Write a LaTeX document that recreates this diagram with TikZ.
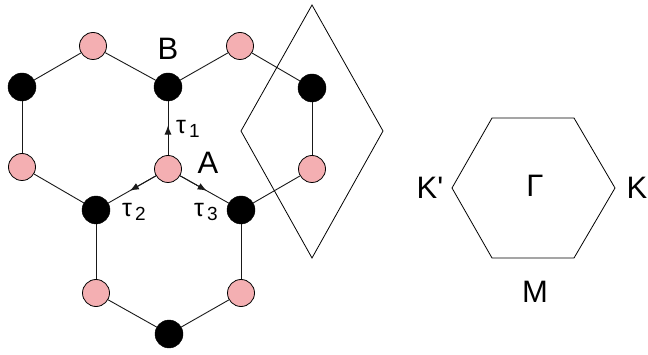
\documentclass[tikz,border=0pt]{standalone}
\usepackage{fontspec}
\setmainfont{Liberation Sans}
\usetikzlibrary{arrows.meta,calc}
\definecolor{pinkatom}{RGB}{244,175,178}
\tikzset{
  atomA/.style={circle,draw=black,line width=0.8pt,fill=pinkatom,minimum size=27pt,inner sep=0pt},
  atomB/.style={circle,draw=black,fill=black,minimum size=28pt,inner sep=0pt},
  bond/.style={line width=0.9pt,draw=black!90},
  halfarrow/.style={bond,-{Latex[length=9pt,width=7pt]}},
  outline/.style={line width=0.8pt,draw=black},
  biglabel/.style={inner sep=0pt,font=\fontsize{31}{31}\selectfont},
  taulabel/.style={inner sep=0pt,anchor=base west,font=\fontsize{25}{25}\selectfont}
}
\newcommand{\taulab}[1]{τ\hspace{3pt}\raisebox{-4pt}{\fontsize{19}{19}\selectfont #1}}
\begin{document}
\begin{tikzpicture}[x=1pt,y=-1pt]
\useasboundingbox (0,0) rectangle (648,355);
% atoms
\node[atomA] (pTL) at (93,46) {};
\node[atomB] (bFL) at (22,87) {};
\node[atomB] (bT) at (168,87) {};
\node[atomA] (pTR) at (240,46) {};
\node[atomB] (bR) at (312,88) {};
\node[atomA] (pL) at (22,167) {};
\node[atomA] (pA) at (168,169) {};
\node[atomA] (pR) at (312,169) {};
\node[atomB] (bLL) at (96,210) {};
\node[atomB] (bRL) at (241,210) {};
\node[atomA] (pBL) at (96,293) {};
\node[atomA] (pBR) at (241,293) {};
\node[atomB] (bB) at (169,334) {};
% bonds
\draw[bond] (pTL) -- (bFL);
\draw[bond] (pTL) -- (bT);
\draw[bond] (bT) -- (pTR);
\draw[bond] (pTR) -- (bR);
\draw[bond] (bFL) -- (pL);
\draw[bond] (pL) -- (bLL);
\draw[bond] (bRL) -- (pR);
\draw[bond] (bR) -- (pR);
\draw[bond] (bLL) -- (pBL);
\draw[bond] (bRL) -- (pBR);
\draw[bond] (pBL) -- (bB);
\draw[bond] (pBR) -- (bB);
\draw[bond] (pA) -- (bT);
\draw[bond] (pA) -- (bLL);
\draw[bond] (pA) -- (bRL);
\draw[halfarrow] (pA) -- ($(pA)!0.53!(bT)$);
\draw[halfarrow] (pA) -- ($(pA)!0.53!(bLL)$);
\draw[halfarrow] (pA) -- ($(pA)!0.53!(bRL)$);
% labels
\node[biglabel] (labB) at (168,49) {B};
\node[biglabel] (labA) at (208,163) {A};
\node[taulabel] (t1) at (176,134) {\taulab{1}};
\node[taulabel] (t2) at (122,217) {\taulab{2}};
\node[taulabel] (t3) at (194,217) {\taulab{3}};
% rhombus (unit cell)
\coordinate (rT) at (312,5);
\coordinate (rL) at (241,131);
\coordinate (rR) at (383,131);
\coordinate (rB) at (312,258);
\draw[outline] (rT) -- (rR) -- (rB) -- (rL) -- cycle;
% Brillouin zone
\coordinate (h1) at (492,118);
\coordinate (h2) at (574,118);
\coordinate (h3) at (615,188);
\coordinate (h4) at (574,258);
\coordinate (h5) at (492,258);
\coordinate (h6) at (452,188);
\draw[outline] (h1) -- (h2) -- (h3) -- (h4) -- (h5) -- (h6) -- cycle;
\node[biglabel] (lKp) at (430,188) {K\textquotesingle};
\node[biglabel] (lG) at (535,186) {Γ};
\node[biglabel] (lK) at (637,188) {K};
\node[biglabel] (lM) at (535,292) {M};
\end{tikzpicture}
\end{document}
